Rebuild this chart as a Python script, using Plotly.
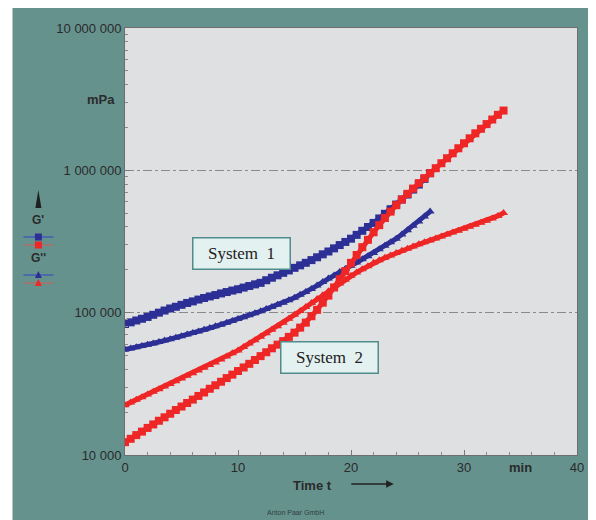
import plotly.graph_objects as go

# ---------------- data ----------------
# time axis sampling: one reading every 0.5 min
step_min = 0.5

# System 1 (blue)  -- G' (squares) and G'' (triangles), mPa
sys1_G_storage = [83200, 85500, 88100, 90600, 93300, 96600, 100000, 103500, 107000, 110000,
                  113500, 117000, 120000, 123600, 126800, 130000, 133000, 136500, 139600, 143000,
                  146000, 150000, 154000, 158000, 162000, 169000, 176000, 183000, 190500, 198000,
                  206500, 215000, 224000, 234000, 245000, 257000, 269000, 283000, 298500, 314000,
                  331000, 352000, 376000, 400000, 427000, 459000, 495000, 533000, 575000, 624000,
                  676000, 733000, 794000, 871000, 955000]
sys1_G_loss = [55000, 56000, 57150, 58340, 59570, 60810, 62230, 63680, 65160, 66680,
               68390, 70150, 71940, 73790, 75860, 77980, 80170, 82410, 84920, 87500,
               90160, 92900, 95940, 99080, 102300, 105900, 109600, 113500, 117500, 122200,
               127400, 133400, 139600, 146900, 154900, 164100, 173800, 182800, 192800, 202800,
               213800, 225000, 237000, 249500, 263000, 278600, 295000, 312600, 331000, 354800,
               380000, 407400, 436500, 473000, 513000]

# System 2 (red)
sys2_G_storage = [12300, 13000, 13800, 14600, 15500, 16400, 17400, 18400, 19500, 20700,
                  21900, 23200, 24500, 26000, 27500, 29200, 30900, 32700, 34700, 36700,
                  38900, 41200, 43700, 46500, 49500, 52700, 56200, 59600, 63100, 67600,
                  72400, 78500, 85100, 94400, 104700, 117500, 131800, 150300, 171800, 195900,
                  223900, 254100, 288400, 325000, 367300, 412000, 462400, 512900, 568900, 623700,
                  683900, 744700, 812800, 881000, 955000, 1035000, 1122000, 1216000, 1318000, 1429000,
                  1549000, 1679000, 1820000, 1959000, 2113000, 2275000, 2455000, 2630000]
sys2_G_loss = [22400, 23400, 24400, 25500, 26600, 27800, 29000, 30300, 31600, 33000,
               34500, 36000, 37600, 39300, 41000, 42800, 44700, 46900, 49200, 51800,
               54300, 57400, 60700, 64000, 67600, 71600, 75900, 80400, 85100, 90800,
               96600, 102800, 109600, 117000, 124500, 132400, 141300, 150700, 160300, 170600,
               182000, 191900, 201800, 212300, 223900, 233300, 242700, 252400, 263000, 272300,
               281800, 291700, 302000, 311900, 322000, 332000, 342800, 354000, 365600, 376700,
               389000, 401800, 415000, 427600, 441600, 459000, 478600, 501000]

x_tick_vals = [0, 10, 20, 30, 40]
y_tick_vals = [1e4, 1e5, 1e6, 1e7]
y_tick_text = ["10 000", "100 000", "1 000 000", "10 000 000"]
box_labels = ["System  1", "System  2"]

# ---------------- styling ----------------
TEAL = "#66928e"
PLOT_BG = "#dfe0e2"
BLUE = "#2c2f95"
RED = "#ee2626"
SANS = "Liberation Sans, Arial, sans-serif"
SERIF = "Liberation Serif, Times New Roman, serif"

# the page body has an 8px margin, so the figure sits at (8, 8) in the window
OFF = 8
W, H = 596 - OFF, 520 - OFF
# plot area in window pixels: x 125..579, y 28..455
L, T = 125 - OFF, 28 - OFF
R, B = W - (579 - OFF), H - (455 - OFF)
PW, PH = W - L - R, H - T - B


def PX(x):  # window pixel -> paper
    return (x - OFF - L) / PW


def PY(y):
    return (T + PH - (y - OFF)) / PH


def times(vals):
    return [i * step_min for i in range(len(vals))]


fig = go.Figure()

series = [
    (sys1_G_storage, BLUE, "square"),
    (sys1_G_loss, BLUE, "triangle-up"),
    (sys2_G_loss, RED, "triangle-up"),
    (sys2_G_storage, RED, "square"),
]
for vals, col, sym in series:
    fig.add_trace(go.Scatter(
        x=times(vals), y=vals, mode="lines+markers",
        line=dict(color=col, width=5),
        marker=dict(symbol=sym, size=8, color=col, line=dict(width=0)),
        showlegend=False, hoverinfo="skip"))

axis_font = dict(family=SANS, size=13, color="#2a2a2a")

fig.update_xaxes(
    range=[0, 40], tickmode="array", tickvals=x_tick_vals,
    ticks="inside", ticklen=5, tickcolor="#7a7a7a",
    showline=True, linecolor="#6e6e6e", linewidth=1, mirror=True,
    showgrid=False, zeroline=False, tickfont=axis_font,
    minor=dict(tickmode="array", tickvals=[v for v in range(2, 40, 2) if v % 10],
               ticks="inside", ticklen=3, tickcolor="#8a8a8a", showgrid=False),
)
fig.update_yaxes(
    type="log", range=[4, 7], tickmode="array", tickvals=y_tick_vals, ticktext=y_tick_text,
    ticks="inside", ticklen=5, tickcolor="#7a7a7a",
    showline=True, linecolor="#6e6e6e", linewidth=1, mirror=True,
    showgrid=True, gridcolor="#8a8a8a", griddash="dashdot", gridwidth=1,
    zeroline=False, tickfont=axis_font,
    minor=dict(tickmode="array",
               tickvals=[m * 10 ** d for d in (4, 5, 6) for m in range(2, 10)],
               ticks="inside", ticklen=3, tickcolor="#8a8a8a", showgrid=False),
)

bold = dict(family=SANS, size=13, color="#2a2a2a")
annotations = [
    dict(text="<b>mPa</b>", xref="paper", yref="y", x=PX(117), y=6.5,
         xanchor="right", yanchor="middle", showarrow=False, font=bold),
    dict(text="<b>min</b>", xref="x", yref="paper", x=35, y=PY(467),
         xanchor="center", yanchor="middle", showarrow=False, font=bold),
    dict(text="<b>Time t</b>", xref="paper", yref="paper", x=PX(313), y=PY(485),
         xanchor="center", yanchor="middle", showarrow=False, font=bold),
    dict(text="", xref="paper", yref="paper", x=PX(395), y=PY(484),
         ax=-44, ay=0, showarrow=True, arrowhead=2, arrowsize=1.1, arrowwidth=1.4,
         arrowcolor="#222222"),
    dict(text="Anton Paar GmbH", xref="paper", yref="paper", x=PX(296), y=PY(513),
         xanchor="center", yanchor="middle", showarrow=False,
         font=dict(family=SANS, size=7, color="#2f3f3e")),
    dict(text="<b>G'</b>", xref="paper", yref="paper", x=PX(38), y=PY(220),
         xanchor="center", yanchor="middle", showarrow=False,
         font=dict(family=SANS, size=12, color="#2a2a2a")),
    dict(text="<b>G''</b>", xref="paper", yref="paper", x=PX(38), y=PY(258),
         xanchor="center", yanchor="middle", showarrow=False,
         font=dict(family=SANS, size=12, color="#2a2a2a")),
    dict(text=box_labels[0], xref="x", yref="y", x=10.35, y=5.415,
         xanchor="center", yanchor="middle", showarrow=False,
         font=dict(family=SERIF, size=17, color="#222222"),
         bgcolor="#e3f1f1", bordercolor="#4f8c8a", borderwidth=1.5, borderpad=5,
         width=86, height=20),
    dict(text=box_labels[1], xref="x", yref="y", x=18.1, y=4.687,
         xanchor="center", yanchor="middle", showarrow=False,
         font=dict(family=SERIF, size=17, color="#222222"),
         bgcolor="#e3f1f1", bordercolor="#4f8c8a", borderwidth=1.5, borderpad=5,
         width=86, height=20),
]

shapes = [
    # white page strip at the left of the teal figure (window x 8..12)
    dict(type="rect", xref="paper", yref="paper", x0=PX(7), x1=PX(12), y0=PY(530), y1=PY(7),
         fillcolor="white", line=dict(width=0), layer="above"),
    # y-axis arrow in the legend
    dict(type="path", xref="paper", yref="paper",
         path=f"M {PX(35)},{PY(208)} L {PX(38)},{PY(190)} L {PX(41)},{PY(208)} Z",
         fillcolor="#1f1f1f", line=dict(width=0)),
]

legend_rows = [(237, "#3b56b8", BLUE, "sq"), (245, "#b86a62", RED, "sq"),
               (275, "#3b56b8", BLUE, "tri"), (283, "#b86a62", RED, "tri")]
for yy, lc, mc, kind in legend_rows:
    shapes.append(dict(type="line", xref="paper", yref="paper",
                       x0=PX(23), x1=PX(53), y0=PY(yy), y1=PY(yy),
                       line=dict(color=lc, width=1.3)))
    if kind == "sq":
        shapes.append(dict(type="rect", xref="paper", yref="paper",
                           x0=PX(34.5), x1=PX(41.5), y0=PY(yy + 3.5), y1=PY(yy - 3.5),
                           fillcolor=mc, line=dict(width=0)))
    else:
        shapes.append(dict(type="path", xref="paper", yref="paper",
                           path=f"M {PX(34.5)},{PY(yy + 3)} L {PX(38)},{PY(yy - 4)} L {PX(41.5)},{PY(yy + 3)} Z",
                           fillcolor=mc, line=dict(width=0)))

fig.update_layout(
    width=W, height=H,
    margin=dict(l=L, r=R, t=T, b=B, pad=0),
    paper_bgcolor=TEAL, plot_bgcolor=PLOT_BG,
    showlegend=False,
    annotations=annotations, shapes=shapes,
)

fig.write_html("out.html")
